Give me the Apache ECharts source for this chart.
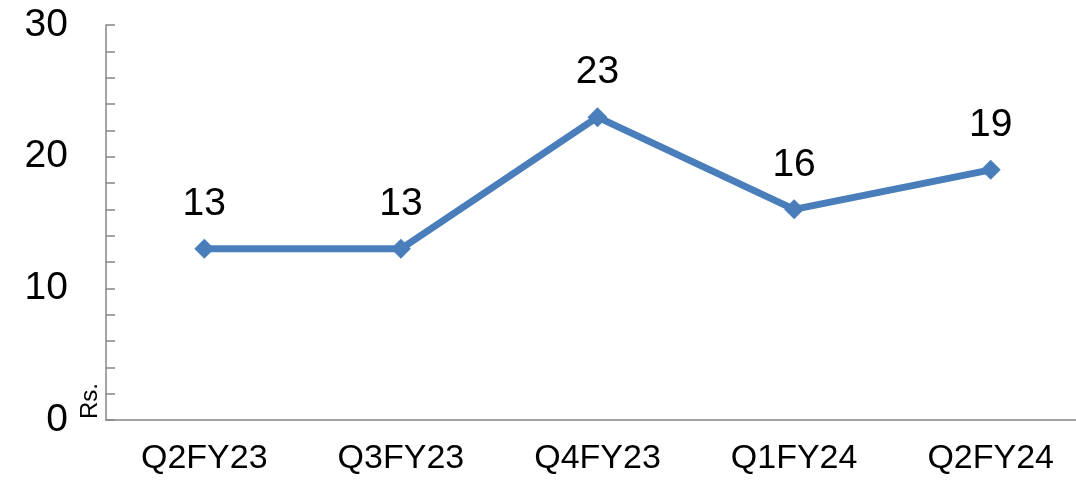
<!DOCTYPE html>
<html>
<head>
<meta charset="utf-8">
<script src="https://cdn.jsdelivr.net/npm/echarts@6/dist/echarts.min.js"></script>
<style>
html,body{margin:0;padding:0;background:#fff;overflow:hidden;width:1076px;height:482px;}
#chart{width:1089px;height:482px;}
</style>
</head>
<body>
<div id="chart"></div>
<script>
const categories = ['Q2FY23', 'Q3FY23', 'Q4FY23', 'Q1FY24', 'Q2FY24'];
const values = [13, 13, 23, 16, 19];
const yLabelValues = [0, 10, 20, 30];
const yAxisName = 'Rs.';

const chart = echarts.init(document.getElementById('chart'), null, {renderer: 'canvas'});
const FONT = '"Liberation Sans", Arial, sans-serif';
chart.setOption({
  animation: false,
  backgroundColor: '#ffffff',
  grid: {left: 106, top: 25, right: 0, bottom: 62, containLabel: false},
  xAxis: {
    type: 'category',
    data: categories,
    boundaryGap: true,
    axisLine: {show: true, lineStyle: {color: '#868686', width: 1.5}},
    axisTick: {show: false},
    axisLabel: {
      color: '#000',
      fontFamily: FONT,
      fontSize: 34,
      margin: 22
    },
    splitLine: {show: false}
  },
  yAxis: {
    type: 'value',
    min: 0,
    max: 30,
    interval: 2,
    axisLine: {show: true, lineStyle: {color: '#868686', width: 1.5}},
    axisTick: {show: true, inside: true, length: 9, lineStyle: {color: '#868686', width: 1.5}},
    axisLabel: {
      color: '#000',
      fontFamily: FONT,
      fontSize: 39,
      margin: 38,
      formatter: function (v) { return yLabelValues.indexOf(v) >= 0 ? String(v) : ''; }
    },
    splitLine: {show: false}
  },
  graphic: [{
    type: 'text',
    x: 90,
    y: 401,
    rotation: Math.PI / 2,
    style: {
      text: yAxisName,
      fill: '#000',
      font: '24px "Liberation Sans", Arial, sans-serif',
      align: 'center',
      verticalAlign: 'middle'
    }
  }],
  series: [{
    type: 'line',
    data: values,
    symbol: 'diamond',
    symbolSize: 20,
    lineStyle: {color: '#4A7EBB', width: 7},
    itemStyle: {color: '#4A7EBB'},
    label: {
      show: true,
      position: 'top',
      distance: 15,
      color: '#000',
      fontFamily: FONT,
      fontSize: 39
    }
  }]
});
</script>
</body>
</html>
